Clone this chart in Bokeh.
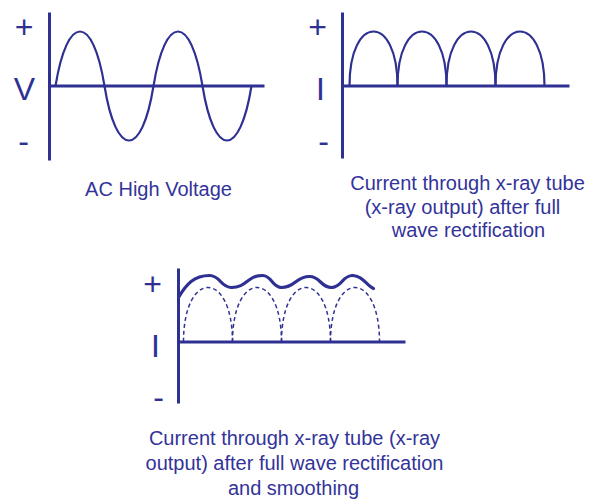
from bokeh.plotting import figure
from bokeh.models import Range1d, ColumnDataSource
from bokeh.core.properties import value
from bokeh.embed import file_html
from bokeh.resources import INLINE

# ---------------- data (in picture units) ----------------
# axes: x0, y0, x1, y1
axis_x0 = [49, 49, 342, 342, 178, 178]
axis_y0 = [12, 85.5, 12, 85.5, 268, 341.5]
axis_x1 = [49, 264, 342, 569, 178, 405]
axis_y1 = [160, 85.5, 158, 85.5, 403, 341.5]

# panel 1: AC sine wave, zero crossings and extreme values
ac_edges = [55, 104, 153, 202, 251]
ac_extremes = [31, 140, 31, 140]
ac_base = 85.5

# panel 2: full-wave rectified arches
fw_edges = [349, 397, 446, 495, 544]
fw_peak = 31
fw_base = 85.5

# panel 3: rectified arches (dashed) and smoothed current (key points: start, peaks, dips, end)
sm_edges = [183, 232, 281, 330, 379]
sm_peak = 287
sm_base = 341.5
smooth_x = [178, 209, 231, 262, 281, 309, 331, 352, 373]
smooth_y = [297, 275, 287, 275, 287, 276, 287, 275, 288]

# symbol labels
sym_text = ["+", "V", "-", "+", "I", "-", "+", "I", "-"]
sym_x = [23.5, 24, 23, 317, 320, 323, 152, 155, 158]
sym_y = [26, 88, 140, 26, 88, 140, 283, 345, 396]

# captions
cap_text = ["AC High Voltage",
            "Current through x-ray tube", "(x-ray output) after full", "wave rectification",
            "Current through x-ray tube (x-ray", "output) after full wave rectification", "and smoothing"]
cap_x = [158, 467, 462, 468, 294, 294, 293]
cap_y = [188, 182, 206, 229, 437, 462, 487]

NAVY = "#2E3192"
TEXT = "#333399"


def arches(edges, peaks, base, a):
    x0, y0, x1, y1, cx0, cy0, cx1, cy1 = [], [], [], [], [], [], [], []
    for i in range(len(edges) - 1):
        l, r = edges[i], edges[i + 1]
        w = r - l
        pk = peaks[i] if isinstance(peaks, list) else peaks
        cy = base + (pk - base) * 4.0 / 3.0
        x0.append(l); y0.append(base); x1.append(r); y1.append(base)
        cx0.append(l + a * w); cy0.append(cy); cx1.append(r - a * w); cy1.append(cy)
    return ColumnDataSource(dict(x0=x0, y0=y0, x1=x1, y1=y1, cx0=cx0, cy0=cy0, cx1=cx1, cy1=cy1))


def wave(xs, ys):
    # smooth curve through key points with horizontal tangents at the peaks and dips
    x0, y0, x1, y1, cx0, cy0, cx1, cy1 = [], [], [], [], [], [], [], []
    for i in range(len(xs) - 1):
        a, b = xs[i], xs[i + 1]
        h = (b - a) / 2.0
        x0.append(a); y0.append(ys[i]); x1.append(b); y1.append(ys[i + 1])
        if i == 0:
            cx0.append(a + h * 0.5); cy0.append(ys[i] - (ys[i] - ys[i + 1]) * 0.6)
        else:
            cx0.append(a + h); cy0.append(ys[i])
        if i == len(xs) - 2:
            cx1.append(b - h * 0.6); cy1.append(ys[i + 1] - 2)
        else:
            cx1.append(b - h); cy1.append(ys[i + 1])
    return ColumnDataSource(dict(x0=x0, y0=y0, x1=x1, y1=y1, cx0=cx0, cy0=cy0, cx1=cx1, cy1=cy1))


p = figure(width=600, height=503, output_backend="svg", toolbar_location=None,
           x_range=Range1d(0, 600), y_range=Range1d(503, 0),
           x_axis_location=None, y_axis_location=None, min_border=0)
p.grid.visible = False
p.outline_line_color = None
p.background_fill_color = "white"

p.segment(x0=axis_x0, y0=axis_y0, x1=axis_x1, y1=axis_y1, line_color=NAVY, line_width=3)

bz = dict(x0="x0", y0="y0", x1="x1", y1="y1", cx0="cx0", cy0="cy0", cx1="cx1", cy1="cy1")
p.bezier(source=arches(ac_edges, ac_extremes, ac_base, 0.24), line_color=NAVY, line_width=2.2, **bz)
p.bezier(source=arches(fw_edges, fw_peak, fw_base, 0.0), line_color=NAVY, line_width=2.2, **bz)
p.bezier(source=arches(sm_edges, sm_peak, sm_base, 0.0), line_color=NAVY, line_width=1.5,
         line_dash="4 3", **bz)
p.bezier(source=wave(smooth_x, smooth_y), line_color=NAVY, line_width=3.2, line_cap="round", **bz)

p.text(x=sym_x, y=sym_y, text=sym_text, text_font=value("Liberation Sans"),
       text_font_size="32px", text_align="center", text_baseline="alphabetic", text_color=NAVY)
p.text(x=cap_x, y=cap_y, text=cap_text, text_font=value("Liberation Sans"),
       text_font_size="20px", text_align="center", text_baseline="alphabetic", text_color=TEXT)

open("out.html", "w").write(file_html(p, INLINE))
